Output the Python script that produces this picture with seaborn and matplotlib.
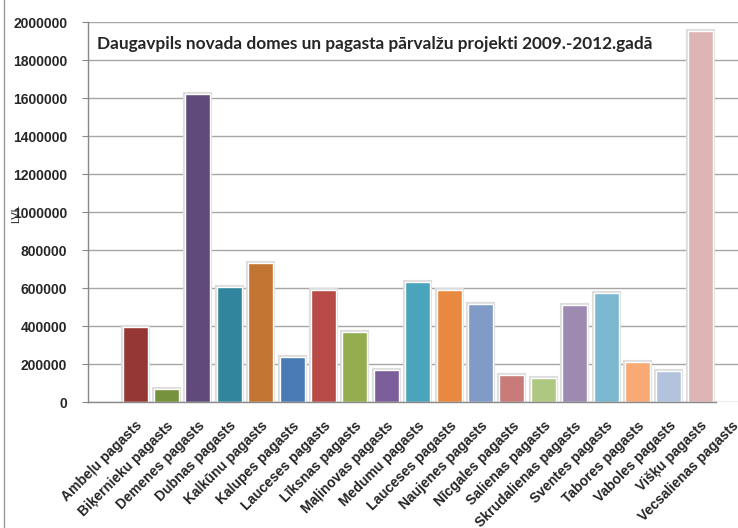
import pandas as pd
import matplotlib
matplotlib.use('Agg')
import matplotlib.pyplot as plt
import matplotlib.patheffects as pe
from matplotlib.lines import Line2D
import seaborn as sns

# Category labels as printed under the axis (one slot to the right of the bars' slots)
labels = ['Ambeļu pagasts', 'Biķernieku pagasts', 'Demenes pagasts', 'Dubnas pagasts',
          'Kalkūnu pagasts', 'Kalupes pagasts', 'Lauceses pagasts', 'Līksnas pagasts',
          'Maļinovas pagasts', 'Medumu pagasts', 'Lauceses pagasts', 'Naujenes pagasts',
          'Nīcgales pagasts', 'Salienas pagasts', 'Skrudalienas pagasts', 'Sventes pagasts',
          'Tabores pagasts', 'Vaboles pagasts', 'Višķu pagasts', 'Vecsalienas pagasts']

# Values (LVL); the last label has no bar
values = [396000, 68000, 1621000, 607000, 730000, 235000, 589000, 370000, 168000,
          632000, 589000, 514000, 140000, 126000, 512000, 575000, 210000, 163000, 1953000]

colors = ['#953735', '#76923c', '#604a7b', '#31859c', '#c27533', '#4a7ab3', '#b84a48',
          '#93ad4f', '#7b5e9a', '#4aa4bc', '#e8893f', '#7f9bc6', '#c97b7a', '#aec781',
          '#9c8ab0', '#7ab8cf', '#f8a974', '#b3c3dd', '#ddb5b5']

title = 'Daugavpils novada domes un pagasta pārvalžu projekti 2009.-2012.gadā'

# slot 0 is empty, labels sit in slots 1..20, bars in slots 1..19
slots = list(range(1, len(values) + 1))
df = pd.DataFrame({'slot': slots, 'value': values})
palette = {s: c for s, c in zip(slots, colors)}

sns.set_style('white')
plt.rcParams['font.family'] = ['Liberation Sans', 'DejaVu Sans']

fig = plt.figure(figsize=(7.38, 5.28), dpi=100)
W, H = 738, 528
ax = fig.add_axes([88 / W, 1 - 402 / H, 21 * 31.4 / W, 380 / H])

sns.barplot(data=df, x='slot', y='value', hue='slot', palette=palette, legend=False,
            order=list(range(0, 21)), width=0.8, saturation=1,
            edgecolor='white', linewidth=1, ax=ax)

# soft grey halo around each bar, like the original shadow
for bar in ax.patches:
    bar.set_path_effects([pe.Stroke(linewidth=3, foreground='#dddddd'), pe.Normal()])

ax.set_xlim(-0.5, 20.5)
ax.set_ylim(0, 2000000)
ax.set_yticks(range(0, 2000001, 200000))
ax.set_yticklabels([str(v) for v in range(0, 2000001, 200000)], fontsize=10, fontweight='bold')
ax.yaxis.grid(True, color='#a6a6a6', linewidth=1)
ax.set_axisbelow(True)

# tick marks at slot boundaries, labels at slot centres
ax.set_xticks([i - 0.5 for i in range(0, 21)])
ax.set_xticklabels([])
ax.set_xticks(range(1, 21), minor=True)
ax.set_xticklabels(labels, minor=True, rotation=45, ha='right', va='top',
                   rotation_mode='anchor', fontsize=10, fontweight='bold')
ax.tick_params(axis='x', which='major', length=4, color='#888888', direction='out')
ax.tick_params(axis='x', which='minor', length=0, pad=12)
ax.tick_params(axis='y', length=4, color='#888888', direction='out', pad=11, left=True)

for s in ['top', 'right']:
    ax.spines[s].set_visible(False)
for s in ['left', 'bottom']:
    ax.spines[s].set_color('#888888')
    ax.spines[s].set_linewidth(1)
ax.spines['bottom'].set_bounds(-0.5, 19.5)

ax.set_xlabel('')
ax.set_ylabel('')
fig.text(16 / W, 1 - 214 / H, 'LVL', rotation=90, fontsize=8, ha='center', va='center')

fig.text(97 / W, 1 - 44 / H, title, fontsize=12.4, fontweight='bold',
         family=['Lato', 'DejaVu Sans'], ha='left', va='center')

# outer chart frame, only its left edge is inside the picture
fig.add_artist(Line2D([3.5 / W, 3.5 / W], [0, 1], color='#9a9a9a', linewidth=1,
                      transform=fig.transFigure))

fig.savefig('out.png', dpi=100)
